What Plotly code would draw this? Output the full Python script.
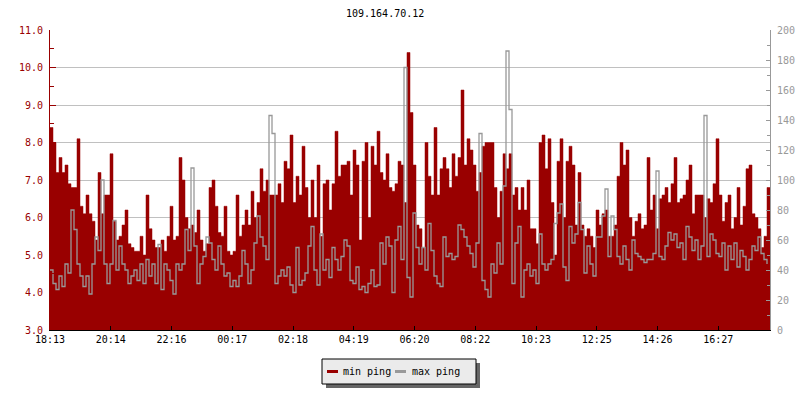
import plotly.graph_objects as go
import pandas as pd

# ---------------- data ----------------
title_text = "109.164.70.12"
series_names = ["min ping", "max ping"]
start_time = "2024-01-01 18:13"
step_minutes = 6
span_minutes = 1440
tick_step_minutes = 121.5
tick_labels = ["18:13", "20:14", "22:16", "00:17", "02:18", "04:19",
               "06:20", "08:22", "10:23", "12:25", "14:26", "16:27"]

min_ping = [
    8.4, 8.0, 7.2, 7.6, 7.2, 7.4, 6.9, 6.8, 6.8, 8.1,
    6.3, 6.1, 6.6, 6.1, 5.9, 5.4, 7.2, 6.1, 6.6, 6.6,
    7.7, 5.9, 5.4, 5.5, 5.8, 6.2, 5.3, 5.2, 5.1, 5.1,
    5.5, 5.0, 6.6, 5.7, 5.4, 5.2, 5.2, 5.4, 5.1, 5.5,
    6.3, 5.4, 5.5, 7.6, 7.0, 6.0, 5.7, 5.8, 5.6, 6.2,
    5.4, 5.1, 5.3, 6.8, 7.0, 6.3, 5.6, 5.5, 6.3, 5.1,
    5.0, 5.1, 6.6, 5.5, 5.8, 6.2, 5.8, 6.7, 6.0, 6.4,
    7.3, 6.7, 7.0, 6.6, 6.6, 6.6, 6.9, 6.4, 7.5, 7.3,
    8.2, 6.4, 7.1, 6.6, 7.9, 6.8, 6.0, 7.0, 6.0, 7.4,
    5.5, 6.9, 7.0, 6.2, 6.9, 8.3, 7.1, 7.4, 7.4, 7.5,
    6.6, 7.8, 7.4, 5.4, 7.5, 8.0, 6.0, 7.9, 7.4, 8.3,
    7.2, 7.0, 7.7, 6.8, 6.7, 6.9, 7.5, 7.4, 6.4, 10.4,
    8.8, 7.4, 5.8, 5.7, 5.2, 8.0, 7.1, 6.6, 8.4, 6.6,
    7.3, 7.6, 7.3, 6.8, 7.7, 7.1, 7.6, 9.4, 7.4, 8.1,
    7.8, 7.4, 6.7, 7.2, 7.9, 8.0, 8.0, 8.0, 6.8, 6.0,
    6.7, 7.7, 7.3, 7.7, 6.6, 6.8, 6.2, 6.8, 6.2, 7.0,
    5.7, 5.7, 5.3, 8.0, 8.2, 7.3, 8.1, 6.4, 5.0, 7.5,
    8.1, 6.0, 7.5, 7.9, 7.4, 5.8, 7.2, 5.8, 5.5, 5.7,
    5.5, 5.2, 6.2, 5.8, 6.1, 6.2, 5.5, 5.5, 5.8, 7.1,
    8.0, 7.4, 7.8, 6.0, 5.5, 5.9, 6.1, 5.7, 5.8, 7.6,
    6.2, 6.6, 5.7, 6.5, 6.6, 6.8, 6.4, 6.9, 7.6, 6.4,
    6.5, 6.6, 7.0, 7.4, 6.1, 6.6, 6.6, 6.6, 6.0, 6.5,
    6.4, 6.9, 8.1, 6.6, 5.9, 6.4, 6.6, 5.7, 6.0, 6.8,
    5.8, 6.3, 7.3, 7.4, 6.1, 6.0, 5.7, 5.2, 5.5, 6.8,
]

max_ping = [
    40, 31, 27, 36, 29, 44, 38, 80, 67, 44,
    36, 29, 36, 24, 44, 62, 53, 100, 44, 31,
    44, 73, 40, 56, 44, 40, 31, 36, 40, 33,
    44, 31, 47, 36, 44, 31, 57, 27, 44, 40,
    33, 24, 44, 40, 44, 67, 53, 108, 56, 31,
    44, 49, 62, 58, 47, 40, 56, 44, 36, 38,
    29, 33, 29, 36, 53, 44, 31, 40, 58, 76,
    62, 56, 47, 143, 131, 31, 36, 40, 36, 42,
    30, 25, 55, 30, 33, 38, 56, 69, 40, 30,
    64, 40, 47, 35, 55, 47, 40, 49, 60, 56,
    33, 31, 42, 27, 29, 25, 31, 40, 29, 30,
    58, 44, 62, 56, 25, 60, 69, 47, 175, 35,
    22, 78, 55, 44, 55, 40, 71, 53, 36, 31,
    29, 62, 49, 51, 47, 49, 70, 67, 62, 56,
    51, 42, 58, 131, 33, 27, 22, 44, 38, 58,
    44, 96, 186, 147, 31, 58, 69, 22, 40, 44,
    36, 40, 31, 64, 44, 40, 44, 47, 71, 78,
    84, 42, 33, 69, 58, 64, 85, 67, 38, 56,
    44, 36, 62, 62, 76, 94, 49, 76, 67, 49,
    44, 56, 47, 40, 60, 51, 49, 47, 45, 47,
    47, 51, 106, 49, 47, 56, 65, 60, 64, 55,
    58, 47, 69, 62, 53, 60, 47, 56, 143, 49,
    64, 60, 51, 49, 58, 40, 56, 47, 58, 42,
    53, 49, 40, 47, 56, 53, 62, 51, 47, 44,
]

# ---------------- styling ----------------
RED = "#990000"
GREY = "#999999"
GRID = "#c0c0c0"
FONT = "DejaVu Sans Mono"

W, H = 800, 400
L, R, T, B = 50, 30, 30, 70
PW, PH = W - L - R, H - T - B


def px_x(p):
    return (p - L) / PW


def px_y(p):
    return (H - B - p) / PH


fmt = "%Y-%m-%d %H:%M:%S"
t0 = pd.Timestamp(start_time)
times = [(t0 + pd.Timedelta(minutes=step_minutes * i)).strftime(fmt) for i in range(len(min_ping))]
tickvals = [(t0 + pd.Timedelta(minutes=tick_step_minutes * k)).strftime(fmt) for k in range(len(tick_labels))]
x_end = (t0 + pd.Timedelta(minutes=span_minutes)).strftime(fmt)

# step area: close the last interval at the end of the time span
area_x = times + [x_end]
area_y = min_ping + [min_ping[-1]]

fig = go.Figure()
fig.add_trace(go.Scatter(
    x=area_x, y=area_y, name=series_names[0], mode="lines",
    line=dict(color=RED, width=0.5, shape="hv"),
    fill="tozeroy", fillcolor=RED,
    showlegend=False, yaxis="y",
))
fig.add_trace(go.Scatter(
    x=times, y=max_ping, name=series_names[1], mode="lines",
    line=dict(color=GREY, width=1.3, shape="hv"),
    showlegend=False, yaxis="y2",
))

fig.update_layout(
    width=W, height=H,
    margin=dict(l=L, r=R, t=T, b=B, pad=0, autoexpand=False),
    paper_bgcolor="white", plot_bgcolor="white",
    font=dict(family=FONT, size=10, color="black"),
    xaxis=dict(
        type="date", range=[times[0], x_end], automargin=False,
        tickmode="array", tickvals=tickvals, ticktext=tick_labels,
        ticks="inside", ticklen=4, tickcolor="black", tickwidth=1,
        showline=True, linecolor="black", linewidth=1,
        showgrid=False, zeroline=False,
        tickfont=dict(family=FONT, size=10, color="black"),
    ),
    yaxis=dict(
        range=[3, 11], dtick=1, tick0=3, tickformat=".1f", automargin=False,
        ticks="inside", ticklen=6, tickcolor=RED, tickwidth=1,
        showline=True, linecolor=RED, linewidth=1,
        showgrid=True, gridcolor=GRID, gridwidth=1, zeroline=False,
        tickfont=dict(family=FONT, size=10, color=RED),
        ticklabelstandoff=4,
        minor=dict(dtick=0.5, ticks="inside", ticklen=4, tickcolor=RED, showgrid=False),
    ),
    yaxis2=dict(
        overlaying="y", side="right", anchor="x", automargin=False,
        range=[0, 200], dtick=20, tick0=0,
        ticks="inside", ticklen=4, tickcolor=GREY, tickwidth=1,
        showline=True, linecolor=GREY, linewidth=1,
        showgrid=False, zeroline=False,
        tickfont=dict(family=FONT, size=10, color=GREY),
        ticklabelstandoff=4,
        minor=dict(dtick=10, ticks="inside", ticklen=3, tickcolor=GREY, showgrid=False),
    ),
)

# title
fig.add_annotation(
    text=title_text, xref="paper", yref="paper",
    x=px_x(385), y=px_y(13), xanchor="center", yanchor="middle",
    showarrow=False, font=dict(family=FONT, size=10, color="black"),
)

# legend box with shadow (drawn manually to match the original look)
lx0, lx1, ly0, ly1 = 322, 476, 359, 384
shapes = [
    dict(type="rect", xref="paper", yref="paper",
         x0=px_x(lx0 + 4), x1=px_x(lx1 + 4), y0=px_y(ly1 + 4), y1=px_y(ly0 + 4),
         fillcolor="#666666", line=dict(width=0), layer="above"),
    dict(type="rect", xref="paper", yref="paper",
         x0=px_x(lx0), x1=px_x(lx1), y0=px_y(ly1), y1=px_y(ly0),
         fillcolor="#ebebeb", line=dict(color="black", width=1), layer="above"),
]
ymid = (ly0 + ly1) / 2
legend_items = [(327, 338, 341, RED, series_names[0]), (395, 406, 410, GREY, series_names[1])]
for sx0, sx1, tx, col, name in legend_items:
    shapes.append(dict(type="line", xref="paper", yref="paper",
                       x0=px_x(sx0), x1=px_x(sx1), y0=px_y(ymid), y1=px_y(ymid),
                       line=dict(color=col, width=3), layer="above"))
    fig.add_annotation(text=name, xref="paper", yref="paper",
                       x=px_x(tx), y=px_y(ymid), xanchor="left", yanchor="middle",
                       showarrow=False, font=dict(family=FONT, size=10, color="black"))
fig.update_layout(shapes=shapes)

# remove the page's default body margin so the 800x400 figure sits at the origin
fig.write_html("out.html", config={"displayModeBar": False},
               post_script="document.body.style.margin='0';")
